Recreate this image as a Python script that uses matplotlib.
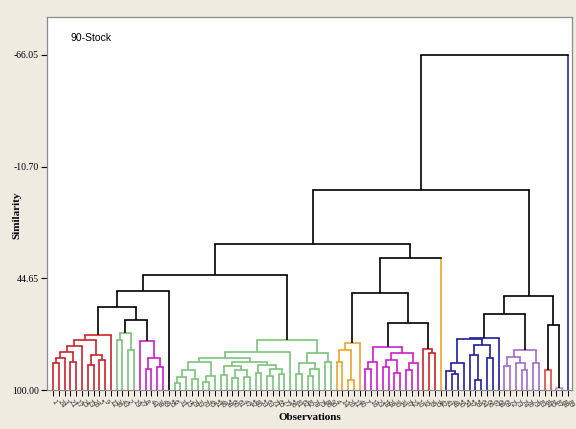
import matplotlib
matplotlib.use('Agg')
from matplotlib import pyplot as plt

# similarity tick values on the y axis
y_ticks = [100.0, 44.65, -10.70, -66.05]
y_tick_labels = ['100.00', '44.65', '-10.70', '-66.05']

# observation numbers, in the order they appear along the x axis
obs_labels = [1, 24, 3, 21, 17, 25, 13, 26, 5, 9,
              12, 36, 43, 2, 19, 27, 8, 44, 38, 49,
              55, 6, 31, 15, 29, 33, 70, 45, 51, 46,
              58, 60, 61, 47, 52, 80, 53, 63, 71, 65,
              77, 56, 81, 62, 82, 78, 75, 86, 90, 4,
              14, 20, 11, 40, 7, 16, 23, 18, 28, 30,
              34, 37, 22, 10, 32, 39, 35, 42, 41, 48,
              50, 54, 57, 59, 64, 66, 67, 68, 69, 72,
              73, 74, 76, 79, 83, 84, 85, 87, 88, 89]

# clusters: [similarity, left, right], 0 = single observation
red_1 = [72.7, [75.3, [78.2, [81.0, [84.1, [86.6, 0, 0], 0], [86.0, 0, 0]], 0],
                      [82.5, [87.6, 0, 0], [85.1, 0, 0]]], 0]
green_1 = [71.7, [75.2, 0, 0], [80.0, 0, 0]]
magenta_1 = [75.7, 0, [84.1, [89.6, 0, 0], [88.6, 0, 0]]]
green_2 = [75.2,
           [81.0,
            [84.0,
             [86.0, [90.3, [93.5, [96.5, 0, 0], 0], [94.5, 0, 0]], [93.0, [96.0, 0, 0], 0]],
             [86.0, [88.0, [92.5, 0, 0], [90.2, [94.0, 0, 0], [93.5, 0, 0]]],
              [87.5, [91.5, 0, 0], [89.5, [93.0, 0, 0], [92.0, 0, 0]]]]],
            0],
           [81.5, [86.6, [92.0, 0, 0], [89.5, [93.0, 0, 0], 0]], [86.0, 0, 0]]]
orange_1 = [76.7, [80.2, [86.1, 0, 0], [95.0, 0, 0]], 0]
magenta_2 = [78.7, [86.0, [89.5, 0, 0], 0],
             [81.5, [85.0, [88.8, 0, 0], [91.5, 0, 0]], [86.5, [90.0, 0, 0], 0]]]
red_2 = [79.7, 0, [81.5, 0, 0]]
blue_1 = [74.2, [74.6, [86.8, [90.5, 0, [92.0, 0, 0]], 0],
                 [77.7, [82.7, 0, [95.0, 0, 0]], [84.1, 0, 0]]], 0]
purple_1 = [80.2, [83.8, [88.0, 0, 0], [86.5, 0, [90.0, 0, 0]]], [86.6, 0, 0]]
red_3 = [90.1, 0, 0]
magenta_3 = [98.8, 0, 0]

groups = {
    'red_1': (red_1, '#cc2229'),
    'green_1': (green_1, '#7cc47a'),
    'magenta_1': (magenta_1, '#cc1fcc'),
    'black_leaf': (0, 'black'),
    'green_2': (green_2, '#7cc47a'),
    'orange_1': (orange_1, '#f0a42c'),
    'magenta_2': (magenta_2, '#cc1fcc'),
    'red_2': (red_2, '#cc2229'),
    'orange_leaf': (0, '#f0a42c'),
    'blue_1': (blue_1, '#1f1f9e'),
    'purple_1': (purple_1, '#a46cc8'),
    'red_3': (red_3, '#e0483a'),
    'magenta_3': (magenta_3, '#c888d8'),
    'blue_leaf': (0, '#2a2aa8'),
}

# black links joining the clusters
links = [-66.05,
         [0.9,
          [27.7,
           [43.0, [50.9, [58.9, 'red_1', [65.3, 'green_1', 'magenta_1']], 'black_leaf'],
            'green_2'],
           [34.6, [52.0, 'orange_1', [66.8, 'magenta_2', 'red_2']], 'orange_leaf']],
          [53.4, [62.3, 'blue_1', 'purple_1'], [67.8, 'red_3', 'magenta_3']]],
         'blue_leaf']

LW = 1.2
fig = plt.figure(figsize=(5.76, 4.29), dpi=100, facecolor='#eeebe1')
ax = fig.add_axes([47 / 576, 1 - 390 / 429, 525 / 576, 373 / 429])

counter = [0]


def draw(node, color):
    # returns (x, similarity) of the node top
    if isinstance(node, str):
        tree, col = groups[node]
        x, h = draw(tree, col)
        return x, h
    if node == 0:
        x = counter[0]
        counter[0] += 1
        return x, 100.0
    h, left, right = node
    xs = []
    for child in (left, right):
        cx, ch = draw(child, color)
        if isinstance(child, str):
            ccol = groups[child][1] if groups[child][0] == 0 else 'black'
        else:
            ccol = color
        ax.plot([cx, cx], [ch, h], color=ccol, lw=LW, solid_capstyle='butt')
        xs.append(cx)
    ax.plot(xs, [h, h], color=color, lw=LW, solid_capstyle='projecting')
    return (xs[0] + xs[1]) / 2, h


draw(links, 'black')

ax.set_xlim(-1.04, 89.7)
ax.set_ylim(100, -84.8)
for s in ax.spines.values():
    s.set_color('#8a8a8a')
    s.set_linewidth(0.9)

ax.set_yticks(y_ticks)
ax.set_yticklabels(y_tick_labels, family='Liberation Serif', fontsize=7)
ax.set_xticks(range(len(obs_labels)))
ax.set_xticklabels([str(v) for v in obs_labels], fontsize=4.9, rotation=-60,
                   ha='left', va='center', rotation_mode='anchor', color='#333333')
ax.tick_params(axis='x', length=4, width=0.7, pad=3)
ax.tick_params(axis='y', length=4, width=0.8, pad=2)

ax.text(0.044, 0.957, '90-Stock', transform=ax.transAxes, fontsize=7.5,
        family='Liberation Sans', va='top', ha='left')
fig.text(17 / 576, 1 - 215 / 429, 'Similarity', rotation=90, ha='center', va='center',
         family='Liberation Serif', fontweight='bold', fontsize=8)
fig.text(310 / 576, 1 - 418 / 429, 'Observations', ha='center', va='center',
         family='Liberation Serif', fontweight='bold', fontsize=8)

fig.savefig('out.png', dpi=100, facecolor=fig.get_facecolor())
